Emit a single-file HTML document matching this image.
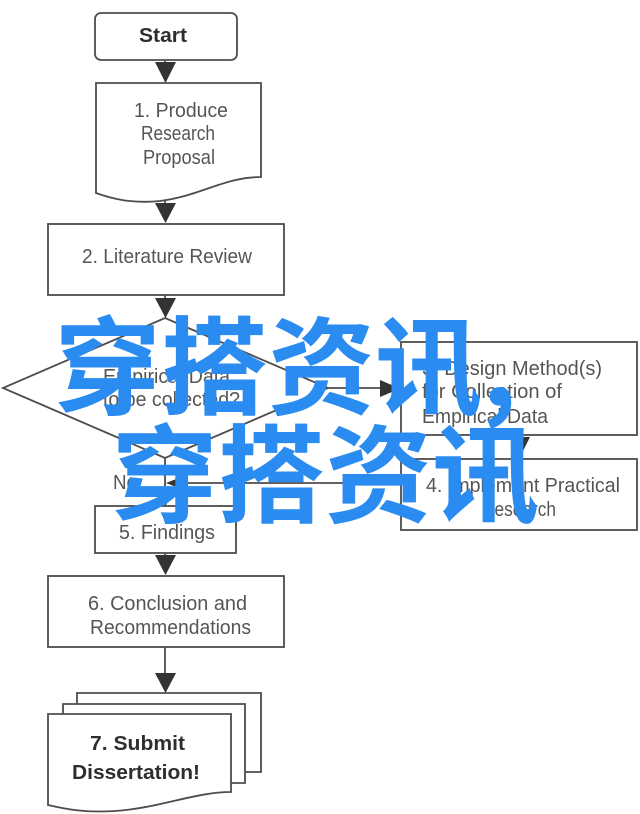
<!DOCTYPE html>
<html>
<head>
<meta charset="utf-8">
<style>
  html,body{margin:0;padding:0;background:#fff;}
  body{width:640px;height:814px;overflow:hidden;position:relative;}
  svg{position:absolute;left:0;top:0;}
  .t{font-family:"Liberation Sans",sans-serif;font-size:20px;fill:#555;}
  .b{font-family:"Liberation Sans",sans-serif;font-size:20px;font-weight:bold;fill:#2e2e2e;}
  .wm{font-family:"Noto Sans CJK SC","WenQuanYi Zen Hei",sans-serif;font-weight:bold;font-size:107px;fill:#2a8cf0;}
</style>
</head>
<body>
<svg width="640" height="814" viewBox="0 0 640 814" xmlns="http://www.w3.org/2000/svg">
  <g fill="#fff" stroke="#4d4d4d" stroke-width="1.8">
    <rect x="95" y="13" width="142" height="47" rx="6" ry="6"/>
    <path d="M96,83 H261 V177 C225,177 200,196 160,201 C130,204 110,198 96,193 Z"/>
    <rect x="48" y="224" width="236" height="71"/>
    <path d="M165,318 L328,388 L165,458 L3,388 Z"/>
    <rect x="401" y="342" width="236" height="93"/>
    <rect x="401" y="459" width="236" height="71"/>
    <rect x="95" y="506" width="141" height="47"/>
    <rect x="48" y="576" width="236" height="71"/>
    <path d="M77,704 V693 H261 V772 H245"/>
    <path d="M63,714 V704 H245 V783 H231"/>
    <path d="M48,714 H231 V792 C195,792 160,808 115,811 C85,813 65,809 48,805 Z"/>
  </g>
  <g stroke="#4d4d4d" stroke-width="1.8" fill="none">
    <line x1="165" y1="60" x2="165" y2="64"/>
    <line x1="165" y1="200" x2="165" y2="205"/>
    <line x1="165" y1="295" x2="165" y2="300"/>
    <line x1="328" y1="388" x2="382" y2="388"/>
    <line x1="519" y1="435" x2="519" y2="440"/>
    <line x1="401" y1="483" x2="182" y2="483"/>
    <line x1="165" y1="458" x2="165" y2="490"/>
    <line x1="165" y1="553" x2="165" y2="556"/>
    <line x1="165" y1="647" x2="165" y2="675"/>
  </g>
  <g fill="#333">
    <polygon points="155,62 176,62 165.5,83"/>
    <polygon points="155,203 176,203 165.5,223"/>
    <polygon points="155,298 176,298 165.5,318"/>
    <polygon points="380,380 380,397 400,388.5"/>
    <polygon points="509,437 530,437 519.5,458"/>
    <polygon points="184,476 184,490 166,483"/>
    <polygon points="157,490 174,490 165.5,506"/>
    <polygon points="155,555 176,555 165.5,575"/>
    <polygon points="155,673 176,673 165.5,693"/>
  </g>
  <text class="b" x="139" y="42" textLength="48" lengthAdjust="spacingAndGlyphs">Start</text>
  <text class="t" x="134" y="117" textLength="94" lengthAdjust="spacingAndGlyphs">1. Produce</text>
  <text class="t" x="141" y="140" textLength="74" lengthAdjust="spacingAndGlyphs">Research</text>
  <text class="t" x="143" y="164" textLength="72" lengthAdjust="spacingAndGlyphs">Proposal</text>
  <text class="t" x="82" y="263" textLength="170" lengthAdjust="spacingAndGlyphs">2. Literature Review</text>
  <text class="t" x="103" y="383" textLength="127" lengthAdjust="spacingAndGlyphs">Empirical Data</text>
  <text class="t" x="103" y="406" textLength="137" lengthAdjust="spacingAndGlyphs">to be collected?</text>
  <text class="t" x="422" y="375" textLength="180" lengthAdjust="spacingAndGlyphs">3. Design Method(s)</text>
  <text class="t" x="422" y="398" textLength="140" lengthAdjust="spacingAndGlyphs">for Collection of</text>
  <text class="t" x="422" y="423" textLength="126" lengthAdjust="spacingAndGlyphs">Empirical Data</text>
  <text class="t" x="426" y="492" textLength="194" lengthAdjust="spacingAndGlyphs">4. Implement Practical</text>
  <text class="t" x="482" y="516" textLength="74" lengthAdjust="spacingAndGlyphs">Research</text>
  <text class="t" x="113" y="489" textLength="24" lengthAdjust="spacingAndGlyphs">No</text>
  <text class="t" x="119" y="539" textLength="96" lengthAdjust="spacingAndGlyphs">5. Findings</text>
  <text class="t" x="88" y="610" textLength="159" lengthAdjust="spacingAndGlyphs">6. Conclusion and</text>
  <text class="t" x="90" y="634" textLength="161" lengthAdjust="spacingAndGlyphs">Recommendations</text>
  <text class="b" x="90" y="750" textLength="95" lengthAdjust="spacingAndGlyphs">7. Submit</text>
  <text class="b" x="72" y="779" textLength="128" lengthAdjust="spacingAndGlyphs">Dissertation!</text>
  <text class="wm" x="54" y="406">穿搭资讯,</text>
  <text class="wm" x="111" y="514">穿搭资讯</text>
</svg>
</body>
</html>
